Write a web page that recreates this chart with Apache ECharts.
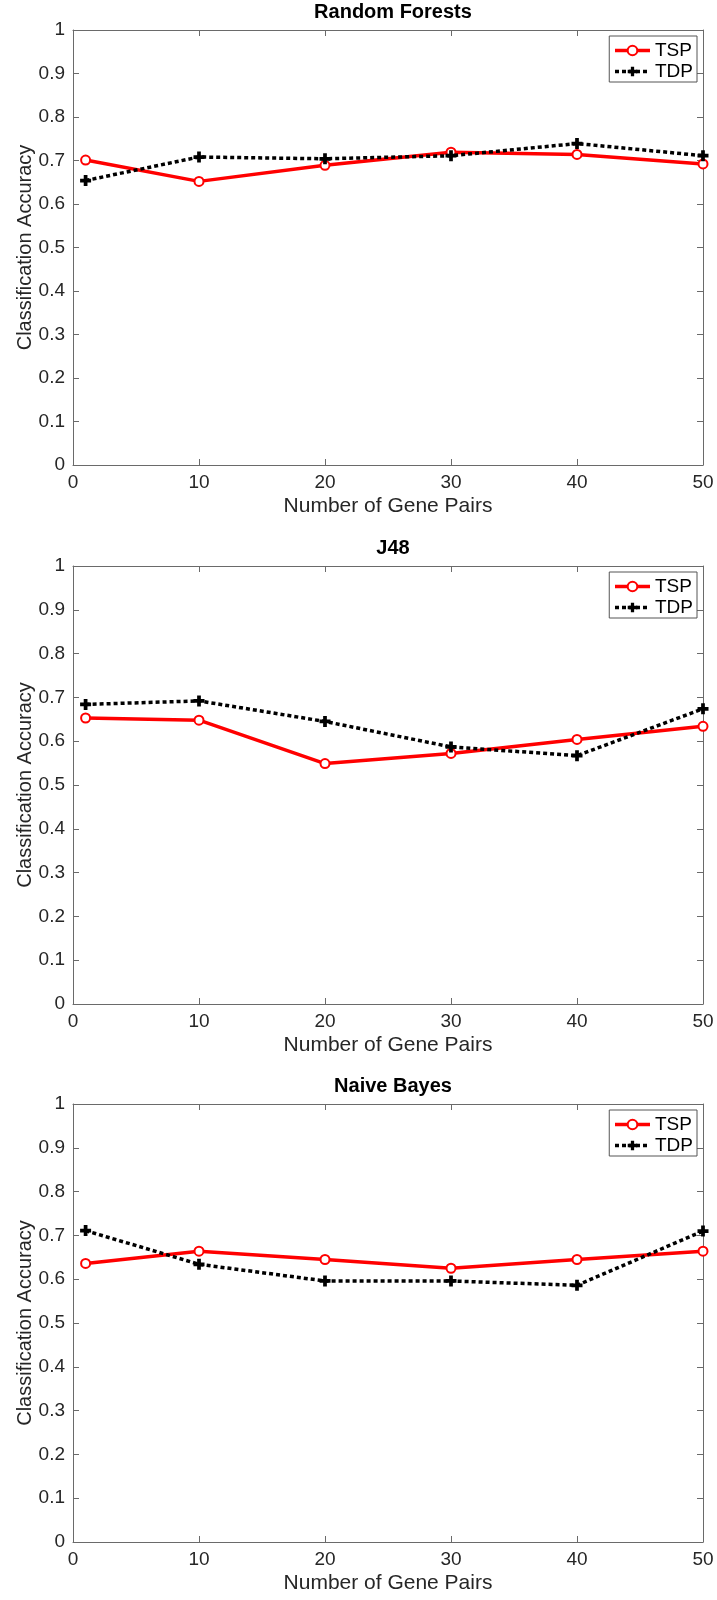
<!DOCTYPE html>
<html>
<head>
<meta charset="utf-8">
<script src="https://cdn.jsdelivr.net/npm/echarts@6/dist/echarts.min.js"></script>
<style>
  html, body { margin: 0; padding: 0; background: #fff; }
  #chart { width: 717px; height: 1600px; }
</style>
</head>
<body>
<div id="chart"></div>
<script>
// ---- data ----
const genePairs = [1, 10, 20, 30, 40, 50];
const panelTitles = ['Random Forests', 'J48', 'Naive Bayes'];
const seriesNames = ['TSP', 'TDP'];

const rfTSP = [0.701, 0.652, 0.689, 0.719, 0.714, 0.692];
const rfTDP = [0.654, 0.708, 0.704, 0.711, 0.739, 0.711];

const j48TSP = [0.653, 0.648, 0.549, 0.572, 0.604, 0.634];
const j48TDP = [0.684, 0.692, 0.645, 0.587, 0.567, 0.674];

const nbTSP = [0.636, 0.664, 0.645, 0.625, 0.645, 0.664];
const nbTDP = [0.711, 0.634, 0.596, 0.596, 0.586, 0.710];

const xLabel = 'Number of Gene Pairs';
const yLabel = 'Classification Accuracy';

// ---- layout ----
const panels = [
  { top: 30,   height: 435, tsp: rfTSP,  tdp: rfTDP },
  { top: 566,  height: 438, tsp: j48TSP, tdp: j48TDP },
  { top: 1104, height: 438, tsp: nbTSP,  tdp: nbTDP }
];

const FONT = '"Liberation Sans", Arial, Helvetica, sans-serif';
const TEXT = '#262626';
const AXIS = '#6a6a6a';
const PLUS = 'path://M3.3,0H6.7V3.3H10V6.7H6.7V10H3.3V6.7H0V3.3H3.3Z';

const pairs = (xs, ys) => xs.map((x, i) => [x, ys[i]]);

const option = {
  animation: false,
  backgroundColor: '#fff',
  textStyle: { fontFamily: FONT, color: TEXT },
  title: [], grid: [], xAxis: [], yAxis: [], legend: [], series: []
};

panels.forEach((p, g) => {
  option.grid.push({ left: 73, right: 14, top: p.top, height: p.height, containLabel: false });
  option.title.push({
    text: panelTitles[g], left: 388, textAlign: 'center', top: p.top - 33,
    textStyle: { fontFamily: FONT, fontSize: 20, fontWeight: 'bold', color: '#000' }
  });
  const axisLine = { show: true, onZero: false, lineStyle: { color: AXIS, width: 1 } };
  const tick = { show: true, inside: true, length: 6, lineStyle: { color: AXIS, width: 1 } };
  // bottom x
  option.xAxis.push({
    type: 'value', gridIndex: g, position: 'bottom', min: 0, max: 50, interval: 10,
    axisLine, axisTick: tick, splitLine: { show: false },
    axisLabel: { fontFamily: FONT, fontSize: 19, color: TEXT, margin: 8 },
    name: xLabel, nameLocation: 'middle', nameGap: 31,
    nameTextStyle: { fontFamily: FONT, fontSize: 21, color: TEXT }
  });
  // top x (box + mirrored ticks)
  option.xAxis.push({
    type: 'value', gridIndex: g, position: 'top', min: 0, max: 50, interval: 10,
    axisLine, axisTick: tick, splitLine: { show: false }, axisLabel: { show: false }
  });
  // left y
  option.yAxis.push({
    type: 'value', gridIndex: g, position: 'left', min: 0, max: 1, interval: 0.1,
    axisLine, axisTick: tick, splitLine: { show: false },
    axisLabel: { fontFamily: FONT, fontSize: 19, color: TEXT, margin: 8 },
    name: yLabel, nameLocation: 'middle', nameGap: 38, nameRotate: 90,
    nameMoveOverlap: false,
    nameTextStyle: { fontFamily: FONT, fontSize: 20, color: TEXT }
  });
  // right y
  option.yAxis.push({
    type: 'value', gridIndex: g, position: 'right', min: 0, max: 1, interval: 0.1,
    axisLine, axisTick: tick, splitLine: { show: false }, axisLabel: { show: false }
  });

  option.legend.push({
    data: seriesNames, orient: 'vertical', right: 20, top: p.top + 6,
    backgroundColor: '#fff', borderColor: '#555', borderWidth: 1, borderRadius: 0,
    padding: [5, 4, 1, 4], itemWidth: 35, itemHeight: 12, itemGap: 2,
    selectedMode: false,
    lineStyle: { width: 3.5 },
    textStyle: { fontFamily: FONT, fontSize: 19, color: '#000', lineHeight: 19 }
  });

  option.series.push({
    name: seriesNames[0], type: 'line', xAxisIndex: g * 2, yAxisIndex: g * 2,
    data: pairs(genePairs, p.tsp), symbol: 'emptyCircle', symbolSize: 9,
    lineStyle: { color: '#ff0000', width: 3.5 },
    itemStyle: { color: '#ff0000', borderColor: '#ff0000', borderWidth: 3 },
    z: 3
  });
  option.series.push({
    name: seriesNames[1], type: 'line', xAxisIndex: g * 2, yAxisIndex: g * 2,
    data: pairs(genePairs, p.tdp), symbol: PLUS, symbolSize: 11,
    lineStyle: { color: '#000', width: 3.5, type: [4, 3] },
    itemStyle: { color: '#000' },
    z: 4
  });
});

const chart = echarts.init(document.getElementById('chart'), null, { renderer: 'canvas' });
chart.setOption(option);
</script>
</body>
</html>
